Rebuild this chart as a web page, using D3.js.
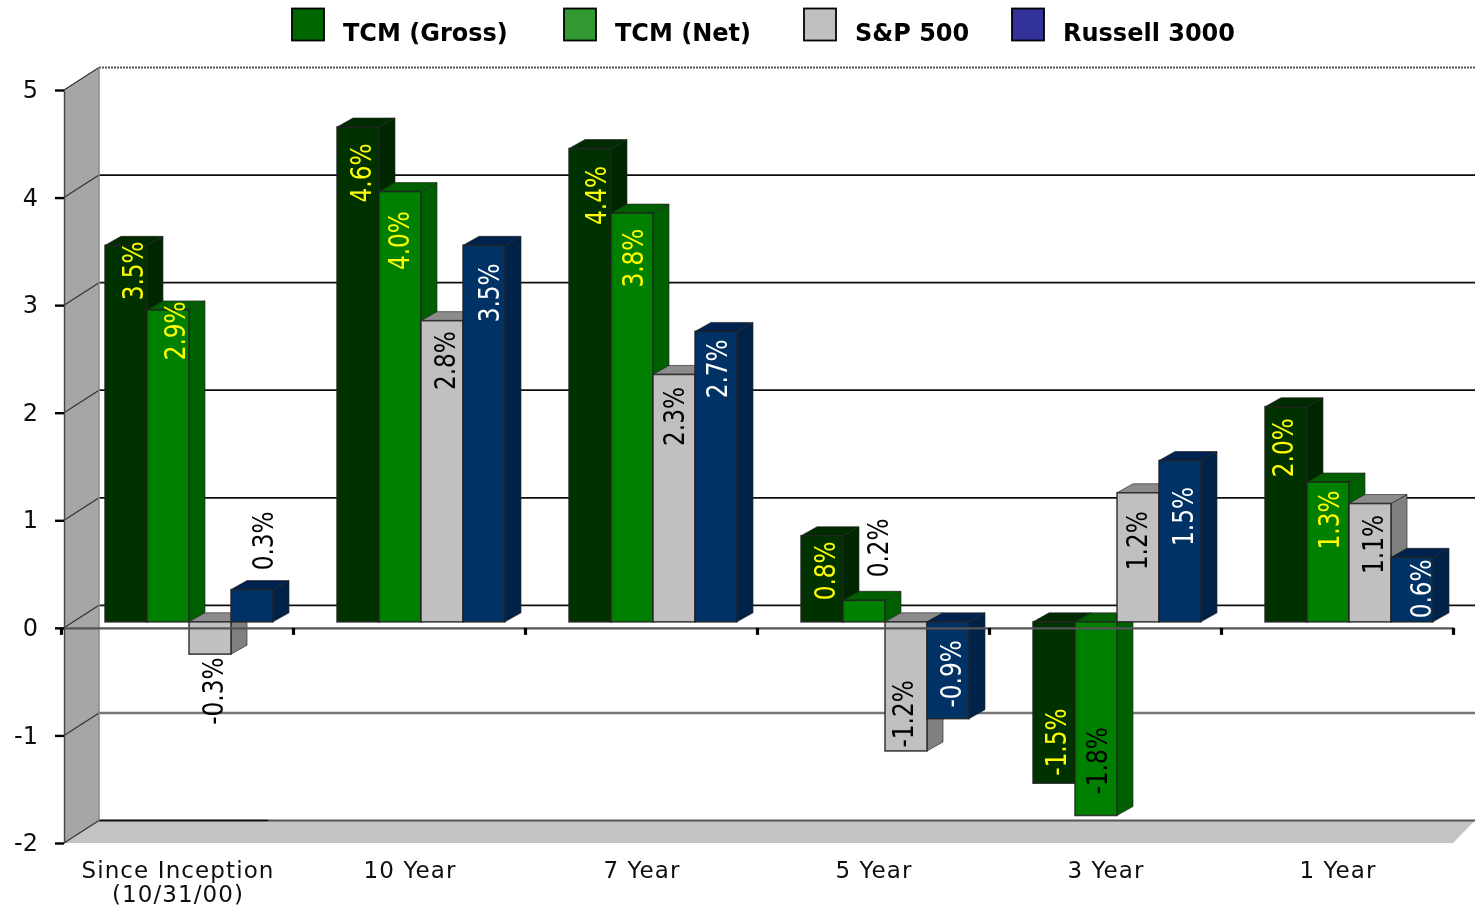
<!DOCTYPE html>
<html><head><meta charset="utf-8">
<script src="https://cdn.jsdelivr.net/npm/d3@7"></script>
<style>html,body{margin:0;padding:0;background:#fff}svg{display:block}text{font-family:"DejaVu Sans",sans-serif}</style>
</head><body><svg id="c" width="1475" height="907"></svg>
<script>
const categories = ["Since Inception\n(10/31/00)","10 Year","7 Year","5 Year","3 Year","1 Year"];
const seriesNames = ["TCM (Gross)","TCM (Net)","S&P 500","Russell 3000"];
const tcmGross = [3.5,4.6,4.4,0.8,-1.5,2.0];
const tcmNet = [2.9,4.0,3.8,0.2,-1.8,1.3];
const sp500 = [-0.3,2.8,2.3,-1.2,1.2,1.1];
const russell3000 = [0.3,3.5,2.7,-0.9,1.5,0.6];
const yTicks = [-2,-1,0,1,2,3,4,5];
const legendColors = ["#006600","#339933","#c0c0c0","#333399"];
const frontColors = ["#003300","#008000","#c0c0c0","#003366"];
const sideColors = ["#002800","#005f00","#808080","#002048"];
const topColors = ["#002a00","#006000","#8c8c8c","#002050"];
const labelColors = ["#ffff00","#ffff00","#000000","#ffffff"];
const series = [tcmGross,tcmNet,sp500,russell3000];
// label placement (pixels from the bar's end / bar's centre), separate from the data
const labelDy = [[19.5,40,41,29,-47,35],[15,43,39,-58.5,-60.6,32],[31,34,36,-43,42,35],[-54.7,41.5,31.4,-50.8,50,25.5]];
const labelDx = [[7,3,6,3,2,-3],[7,-1,1,14,1,1],[3,3,0,-3,-1,3],[11,5,1,3,3,9]];

const svg = d3.select("#c");
const defs = svg.append("defs");
defs.append("filter").attr("id","soft").append("feGaussianBlur").attr("stdDeviation",0.5);
const root = svg.append("g").attr("filter","url(#soft)");

const y = d3.scaleLinear().domain([-2,5]).range([843,90]);
const x0 = d3.scaleBand().domain(categories).range([61,1453]);
const x1 = d3.scaleBand().domain(d3.range(4)).range([44,212]);
const wallDx=35, wallDy=-22.5, barDy=-6, sideDx=16, sideDy=-9;

// walls
const yTop = y(5), yBot = y(-2), xLeft = 64, xRight = 1453;
root.append("path").attr("d",`M${xLeft},${yTop}L${xLeft+wallDx},${yTop+wallDy}L${xLeft+wallDx},${yBot+wallDy}L${xLeft},${yBot}Z`).attr("fill","#a6a6a6");
root.append("path").attr("d",`M${xLeft},${yBot}L${xLeft+wallDx},${yBot+wallDy}L1475,${yBot+wallDy}L${xRight},${yBot}Z`).attr("fill","#c3c3c3");
// grid
yTicks.forEach(t=>{
  const yy=y(t);
  const col = t===-2 ? "#555" : t<0 ? "#777" : "#111";
  if(t<5){
    root.append("line").attr("x1",xLeft+wallDx).attr("x2",1475).attr("y1",yy+wallDy).attr("y2",yy+wallDy)
      .attr("stroke",col).attr("stroke-width",t===-1?2.4:1.8);
  } else {
    root.append("line").attr("x1",xLeft+wallDx).attr("x2",1475).attr("y1",yy+wallDy).attr("y2",yy+wallDy)
      .attr("stroke","#555").attr("stroke-width",2).attr("stroke-dasharray","2 1");
  }
  root.append("line").attr("x1",xLeft).attr("x2",xLeft+wallDx).attr("y1",yy).attr("y2",yy+wallDy).attr("stroke","#333").attr("stroke-width",1.2);
});
root.append("line").attr("x1",xLeft+wallDx).attr("x2",268).attr("y1",yBot+wallDy).attr("y2",yBot+wallDy).attr("stroke","#111").attr("stroke-width",1.6);
root.append("line").attr("x1",xLeft+wallDx).attr("x2",xLeft+wallDx).attr("y1",yTop+wallDy).attr("y2",yBot+wallDy).attr("stroke","#888").attr("stroke-width",1.5);

// bars
function bar(g,c,s,v){
  const xl = x0(c)+x1(s), w = x1.bandwidth();
  const y0 = y(0)+barDy, yv = y(v)+barDy;
  const yt = Math.min(y0,yv), yb = Math.max(y0,yv);
  g.append("path").attr("d",`M${xl+w},${yt}L${xl+w+sideDx},${yt+sideDy}L${xl+w+sideDx},${yb+sideDy}L${xl+w},${yb}Z`)
    .attr("fill",sideColors[s]).attr("stroke","#222").attr("stroke-opacity",0.7).attr("stroke-width",0.9);
  g.append("path").attr("d",`M${xl},${yt}L${xl+sideDx},${yt+sideDy}L${xl+w+sideDx},${yt+sideDy}L${xl+w},${yt}Z`)
    .attr("fill",topColors[s]).attr("stroke","#222").attr("stroke-opacity",0.7).attr("stroke-width",0.9);
  g.append("rect").attr("x",xl).attr("y",yt).attr("width",w).attr("height",yb-yt)
    .attr("fill",frontColors[s]).attr("stroke","#222").attr("stroke-opacity",0.85).attr("stroke-width",1.6);
}
const barsG = root.append("g");
categories.forEach((c,ci)=>{
  d3.range(4).forEach(s=>bar(barsG,c,s,series[s][ci]));
});

// zero axis
const axisG = root.append("g").attr("transform",`translate(0,${y(0)})`);
axisG.call(d3.axisBottom(d3.scaleLinear().domain([0,6]).range([61,1453])).ticks(6).tickFormat("").tickSize(7).tickSizeOuter(0));
axisG.select(".domain").attr("stroke","#555").attr("stroke-width",2.2);
axisG.selectAll(".tick line").attr("stroke","#000").attr("stroke-width",3.2);

// y axis
const yAxis = root.append("g").attr("transform",`translate(${xLeft},0)`);
yAxis.call(d3.axisLeft(y).tickValues(yTicks).tickFormat(d=>String(d)).tickSize(9).tickSizeOuter(0).tickPadding(17));
yAxis.select(".domain").attr("stroke","#444").attr("stroke-width",1.4);
yAxis.selectAll(".tick line").attr("stroke","#000").attr("stroke-width",2.4);
yAxis.selectAll(".tick text").attr("font-size",24).attr("fill","#111").attr("font-family",'"DejaVu Sans"');

// value labels
categories.forEach((c,ci)=>{
  d3.range(4).forEach(s=>{
    const v = series[s][ci];
    const cx = x0(c)+x1(s)+x1.bandwidth()/2+labelDx[s][ci];
    const cy = y(v)+labelDy[s][ci];
    const dark = (ci===0 && s===3) || (ci===3 && s===1) || (ci===4 && s===1);
    root.append("text").attr("transform",`translate(${cx},${cy}) rotate(-90) scale(0.8,1)`)
      .attr("text-anchor","middle").attr("dy","0.36em").attr("font-size",29)
      .attr("fill",dark?"#000000":labelColors[s]).text(v.toFixed(1)+"%");
  });
});

// category labels
categories.forEach(c=>{
  const t = root.append("text").attr("text-anchor","middle").attr("font-size",23).attr("letter-spacing",1.1).attr("fill","#111");
  c.split("\n").forEach((line,i)=>t.append("tspan").attr("x",x0(c)+x0.bandwidth()/2+1).attr("y",878+i*24).text(line));
});

// legend
const legendX = d3.scaleOrdinal().domain(seriesNames).range([292,564,804,1012]);
seriesNames.forEach((n,i)=>{
  root.append("rect").attr("x",legendX(n)).attr("y",8.5).attr("width",32).attr("height",32)
    .attr("fill",legendColors[i]).attr("stroke","#000").attr("stroke-width",1.8);
  root.append("text").attr("x",legendX(n)+51).attr("y",41).attr("font-size",24).attr("font-weight","bold").attr("fill","#000").text(n);
});
</script></body></html>
